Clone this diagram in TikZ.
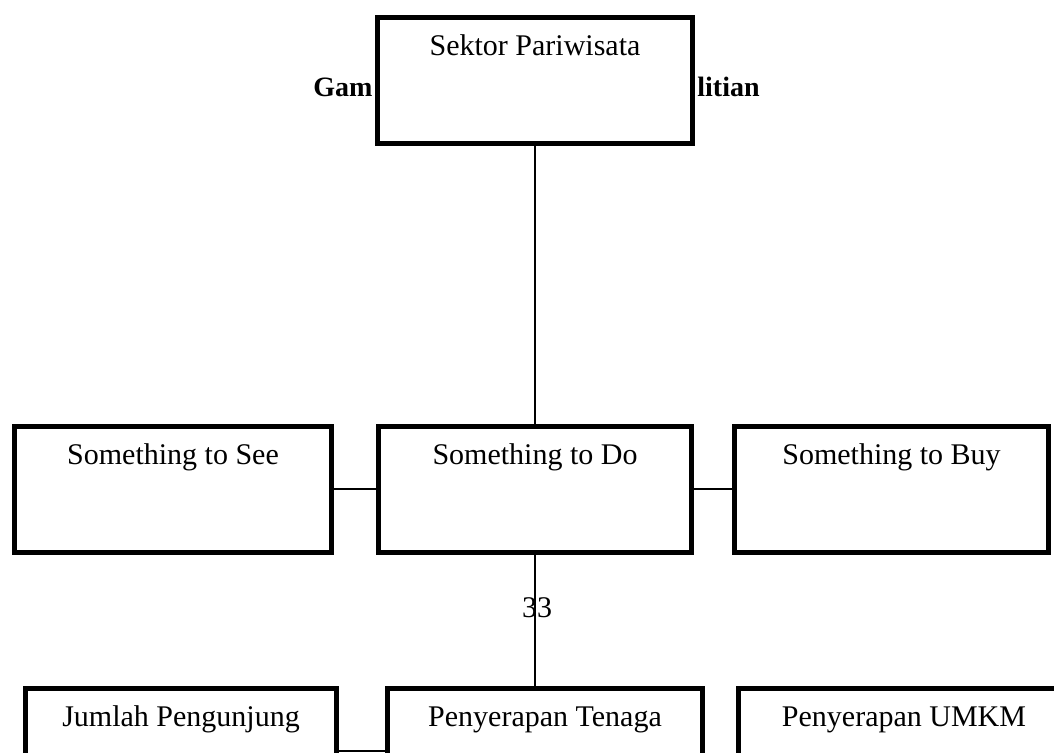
\documentclass[tikz,border=0pt]{standalone}
\usepackage{fontspec}
\setmainfont{Liberation Serif}
\begin{document}
\begin{tikzpicture}[x=1pt,y=-1pt,
    box/.style={draw,line width=2.5pt,fill=white,inner sep=0pt,anchor=north,
      text height=19pt,text depth=44pt,font=\fontsize{15}{18}\selectfont},
    link/.style={line width=1pt},
    caption/.style={inner sep=0pt,anchor=base west,font=\fontsize{14}{17}\selectfont\bfseries}]
    \path[use as bounding box,clip] (0,0) rectangle (527,376.5);
    %% Caption, hidden by the top box
    \node[caption] (capa) at (156.5,48.5) {Gam};
    \node[caption] (capb) at (348.5,48.5) {litian};
    %% Top
    \node[box,minimum width=157.5pt] (sektor) at (267.5,7.5) {Sektor Pariwisata};
    %% Middle row
    \node[box,minimum width=158.5pt] (see) at (86.5,211.75) {Something to See};
    \node[box,minimum width=156.5pt] (do) at (267.5,211.75) {Something to Do};
    \node[box,minimum width=157pt] (buy) at (445.75,211.75) {Something to Buy};
    %% Bottom row
    \node[box,minimum width=155.5pt] (pengunjung) at (90.5,342.75) {Jumlah Pengunjung};
    \node[box,minimum width=157.5pt] (tenaga) at (272.5,342.75) {Penyerapan Tenaga};
    \node[box,minimum width=165.75pt] (umkm) at (452,342.75) {Penyerapan UMKM};
    %% Page number
    \node[inner sep=0pt,font=\fontsize{15}{18}\selectfont] (page) at (268.5,304) {33};
    %% Links
    \draw[link] (sektor.south) -- (do.north);
    \draw[link] (see.east) -- (do.west);
    \draw[link] (do.east) -- (buy.west);
    \draw[link] (do.south) -- (do.south |- tenaga.north);
    \draw[link] (pengunjung.east) -- (tenaga.west);
\end{tikzpicture}
\end{document}
